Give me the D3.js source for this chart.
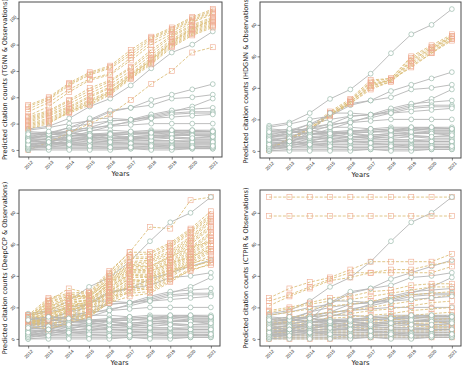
<!DOCTYPE html>
<html>
<head>
<meta charset="utf-8">
<script src="https://cdn.jsdelivr.net/npm/d3@7"></script>
<style>
  body { margin: 0; background: #fff; }
  svg { display: block; font-family: "DejaVu Sans", sans-serif; }
</style>
</head>
<body>
<svg id="chart" width="463" height="368"></svg>
<script>
const years = [2012, 2013, 2014, 2015, 2016, 2017, 2018, 2019, 2020, 2021];

// observed citation counts (same papers in every panel)
const observations = [
  [16, 18, 24, 33, 39, 49, 62, 74, 80, 90],
  [15, 17, 20, 22, 29, 32, 34, 39, 40, 42],
  [9, 12, 17, 23, 30, 32, 38, 42, 46, 50],
  [3, 6, 10, 14, 18, 22, 26, 29, 33, 39],
  [8, 11, 14, 17, 22, 23, 27, 30, 31, 32],
  [10, 13, 17, 20, 22, 23, 25, 28, 29, 29],
  [6, 9, 12, 16, 19, 21, 24, 27, 28, 28],
  [9, 11, 15, 17, 18, 19, 20, 20, 20, 20],
  [2, 5, 12, 24, 24, 23, 24, 25, 26, 27],
  [14, 13, 14, 15, 15, 14, 15, 15, 14, 14],
  [12, 12, 13, 12, 13, 13, 14, 14, 13, 13],
  [11, 12, 11, 12, 12, 12, 12, 13, 12, 12],
  [10, 10, 11, 11, 11, 10, 11, 11, 11, 10],
  [9, 9, 9, 10, 9, 9, 10, 10, 9, 9],
  [7, 8, 8, 9, 8, 9, 8, 9, 8, 8],
  [6, 7, 7, 8, 7, 7, 7, 7, 7, 7],
  [5, 5, 6, 6, 6, 6, 6, 6, 6, 6],
  [4, 5, 5, 5, 5, 5, 5, 5, 5, 5],
  [3, 4, 4, 4, 4, 4, 4, 4, 4, 4],
  [2, 3, 3, 3, 3, 3, 3, 3, 3, 3],
  [1, 2, 2, 2, 2, 2, 2, 2, 2, 2],
  [0, 1, 1, 1, 1, 1, 1, 1, 1, 1],
  [0, 0, 0, 0, 0, 1, 0, 0, 1, 1],
  [1, 3, 6, 9, 11, 12, 13, 14, 15, 15],
  [2, 4, 8, 10, 12, 12, 13, 13, 14, 14],
  [3, 2, 4, 5, 7, 8, 9, 11, 12, 12],
  [5, 6, 5, 7, 9, 10, 11, 12, 11, 11],
  [13, 12, 11, 10, 9, 8, 7, 7, 6, 6],
  [8, 8, 10, 12, 11, 9, 10, 9, 9, 10],
  [12, 14, 13, 11, 12, 14, 13, 15, 15, 14],
  [4, 6, 9, 7, 6, 5, 4, 3, 3, 2],
  [7, 6, 4, 3, 2, 2, 3, 2, 2, 3]
];

const tgnnPred = [
  [34, 40, 51, 59, 64, 76, 86, 93, 101, 107],
  [33, 39, 50, 58, 63, 74, 85, 92, 100, 106],
  [31, 38, 49, 57, 62, 72, 84, 91, 99, 105],
  [29, 36, 46, 54, 58, 70, 82, 90, 98, 104],
  [26, 33, 44, 53, 57, 68, 80, 88, 97, 103],
  [25, 30, 38, 47, 53, 63, 76, 87, 95, 101],
  [24, 29, 37, 45, 52, 62, 74, 86, 94, 100],
  [23, 28, 35, 43, 50, 60, 72, 84, 93, 99],
  [22, 27, 33, 41, 48, 58, 70, 83, 92, 98],
  [21, 26, 32, 40, 47, 57, 69, 82, 91, 97],
  [20, 24, 31, 38, 45, 56, 68, 81, 90, 96],
  [19, 23, 30, 37, 44, 55, 67, 80, 89, 95],
  [18, 22, 29, 35, 43, 55, 66, 79, 88, 94],
  [17, 21, 28, 34, 42, 54, 65, 78, 87, 93],
  [16, 20, 29, 36, 44, 57, 68, 82, 92, 99],
  [0, 6, 13, 20, 27, 38, 50, 60, 74, 78]
];

const hdgnnPred = [
  [1, 8, 15, 25, 33, 45, 46, 60, 67, 74],
  [1, 8, 14, 24, 32, 44, 46, 59, 66, 73],
  [1, 7, 14, 24, 32, 43, 45, 58, 65, 73],
  [1, 8, 14, 23, 31, 42, 45, 57, 65, 72],
  [1, 8, 14, 23, 31, 41, 45, 56, 64, 72],
  [1, 7, 13, 23, 30, 40, 44, 55, 63, 71],
  [1, 7, 13, 22, 30, 39, 44, 54, 62, 70],
  [2, 8, 14, 23, 31, 41, 45, 53, 62, 71]
];

const deepccpPred = [
  [12, 24, 32, 29, 42, 55, 71, 70, 88, 90],
  [15, 26, 29, 30, 43, 55, 55, 61, 70, 81],
  [14, 25, 28, 29, 41, 53, 54, 60, 69, 79],
  [14, 24, 27, 28, 40, 52, 52, 59, 68, 78],
  [13, 23, 27, 27, 39, 51, 51, 58, 67, 77],
  [13, 22, 26, 28, 38, 49, 50, 56, 65, 76],
  [12, 21, 25, 26, 37, 48, 49, 55, 64, 75],
  [12, 20, 24, 27, 36, 47, 48, 54, 63, 74],
  [11, 19, 23, 25, 35, 46, 46, 53, 62, 72],
  [11, 18, 24, 24, 36, 45, 45, 52, 61, 71],
  [10, 17, 22, 25, 34, 44, 44, 51, 60, 70],
  [10, 16, 21, 23, 33, 43, 43, 50, 58, 68],
  [9, 15, 20, 22, 32, 42, 42, 49, 57, 67],
  [13, 16, 19, 21, 31, 41, 41, 48, 56, 66],
  [12, 14, 18, 20, 30, 40, 40, 47, 55, 64],
  [11, 13, 17, 19, 29, 39, 39, 46, 54, 63],
  [10, 12, 16, 18, 28, 37, 38, 45, 53, 62],
  [9, 11, 15, 17, 27, 36, 37, 44, 52, 60],
  [8, 10, 14, 16, 26, 35, 36, 43, 51, 59],
  [14, 9, 13, 16, 25, 34, 35, 42, 50, 57],
  [13, 8, 12, 15, 24, 33, 34, 41, 49, 56],
  [12, 7, 11, 15, 24, 31, 33, 40, 48, 55],
  [11, 6, 10, 14, 23, 30, 32, 39, 47, 53],
  [10, 12, 18, 22, 30, 38, 36, 42, 48, 51],
  [9, 14, 20, 24, 33, 41, 39, 44, 46, 49],
  [8, 6, 10, 14, 23, 27, 29, 36, 44, 47],
  [15, 20, 26, 27, 37, 47, 46, 52, 58, 62],
  [14, 18, 22, 23, 35, 44, 43, 48, 52, 57],
  [12, 15, 21, 22, 29, 33, 31, 38, 43, 48],
  [11, 13, 19, 20, 27, 29, 30, 37, 45, 50]
];

const ctpirPred = [
  [90, 90, 90, 90, 90, 90, 90, 90, 90, 90],
  [78, 78, 78, 78, 78, 78, 78, 78, 78, 78],
  [26, 32, 36, 39, 44, 49, 49, 49, 49, 54],
  [24, 28, 33, 38, 42, 42, 44, 44, 47, 49],
  [21, 27, 32, 37, 39, 42, 42, 42, 42, 46],
  [18, 20, 23, 26, 27, 30, 31, 34, 35, 35],
  [17, 19, 22, 24, 25, 27, 29, 31, 33, 33],
  [15, 17, 19, 21, 22, 24, 26, 28, 29, 30],
  [12, 14, 15, 17, 18, 20, 22, 24, 26, 28],
  [11, 13, 14, 15, 16, 18, 19, 21, 23, 24],
  [10, 11, 12, 13, 14, 15, 16, 18, 19, 20],
  [9, 10, 10, 11, 12, 13, 14, 15, 16, 17],
  [8, 8, 9, 9, 10, 11, 12, 13, 14, 15],
  [7, 7, 8, 8, 9, 10, 10, 11, 12, 13],
  [6, 6, 7, 7, 8, 8, 9, 10, 10, 11],
  [5, 5, 6, 6, 6, 7, 7, 8, 8, 9],
  [4, 4, 5, 5, 5, 6, 6, 6, 7, 7],
  [3, 3, 3, 4, 4, 4, 5, 5, 5, 6],
  [2, 2, 2, 3, 3, 3, 3, 4, 4, 4],
  [1, 1, 1, 1, 2, 2, 2, 2, 2, 3],
  [0, 0, 0, 0, 1, 1, 1, 1, 1, 1]
];

const panels = [
  { label: 'Predicted citation counts (TGNN & Observations)', preds: tgnnPred, ticks: [0, 20, 40, 60, 80, 100],
    box: { x0: 19, x1: 222, y0: 2, y1: 157 } },
  { label: 'Predicted citation counts (HDGNN & Observations)', preds: hdgnnPred, ticks: [0, 20, 40, 60, 80],
    box: { x0: 260, x1: 461, y0: 2, y1: 158 } },
  { label: 'Predicted citation counts (DeepCCP & Observations)', preds: deepccpPred, ticks: [0, 20, 40, 60, 80],
    box: { x0: 19, x1: 220, y0: 190, y1: 346 } },
  { label: 'Predicted citation counts (CTPIR & Observations)', preds: ctpirPred, ticks: [0, 20, 40, 60, 80],
    box: { x0: 260, x1: 461, y0: 190, y1: 346 } }
];

const OBS_LINE = '#b5b5b5';
const OBS_MARK = '#8bb09f';
const PRED_LINE = '#dcbf7c';
const PRED_MARK = '#efaa90';

const svg = d3.select('#chart');

panels.forEach(p => {
  const b = p.box;
  const allVals = p.preds.flat().concat(observations.flat());
  const lo = d3.min(allVals), hi = d3.max(allVals);
  const pad = (hi - lo) * 0.05;

  const x = d3.scaleLinear().domain([2012 - 0.45, 2021 + 0.45]).range([b.x0, b.x1]);
  const y = d3.scaleLinear().domain([lo - pad, hi + pad]).range([b.y1, b.y0]);

  const g = svg.append('g');
  const line = d3.line().x((d, i) => x(years[i])).y(d => y(d));

  // clip to axes box
  const clipId = 'clip' + b.x0 + '_' + b.y0;
  svg.append('clipPath').attr('id', clipId)
    .append('rect').attr('x', b.x0).attr('y', b.y0)
    .attr('width', b.x1 - b.x0).attr('height', b.y1 - b.y0);
  const plot = g.append('g').attr('clip-path', `url(#${clipId})`);

  const n = Math.max(p.preds.length, observations.length);
  for (let i = 0; i < n; i++) {
    const pr = p.preds[i];
    if (pr) {
      plot.append('path').attr('d', line(pr))
        .attr('fill', 'none').attr('stroke', PRED_LINE)
        .attr('stroke-width', 0.9).attr('stroke-dasharray', '3,1.6');
      plot.selectAll(null).data(pr).enter().append('rect')
        .attr('x', (d, j) => x(years[j]) - 2.5)
        .attr('y', d => y(d) - 2.5)
        .attr('width', 5).attr('height', 5)
        .attr('fill', 'none').attr('stroke', PRED_MARK).attr('stroke-width', 0.6);
    }
    const ob = observations[i];
    if (ob) {
      plot.append('path').attr('d', line(ob))
        .attr('fill', 'none').attr('stroke', OBS_LINE).attr('stroke-width', 0.9);
      plot.selectAll(null).data(ob).enter().append('circle')
        .attr('cx', (d, j) => x(years[j]))
        .attr('cy', d => y(d))
        .attr('r', 2.4)
        .attr('fill', '#fff').attr('stroke', OBS_MARK).attr('stroke-width', 0.6);
    }
  }

  // frame
  g.append('rect').attr('x', b.x0).attr('y', b.y0)
    .attr('width', b.x1 - b.x0).attr('height', b.y1 - b.y0)
    .attr('fill', 'none').attr('stroke', '#4d4d4d').attr('stroke-width', 1);

  // x axis (tick labels rotated 45°)
  const xa = g.append('g').attr('transform', `translate(0,${b.y1})`)
    .call(d3.axisBottom(x).tickValues(years).tickFormat(d3.format('d')).tickSize(2.5));
  xa.select('.domain').remove();
  xa.selectAll('line').attr('stroke', '#333').attr('stroke-width', 0.6);
  xa.selectAll('text')
    .style('font-size', '4.5px').attr('fill', '#222')
    .attr('text-anchor', 'middle')
    .attr('x', 0).attr('y', 0).attr('dy', '0.35em')
    .attr('transform', 'translate(0,8) rotate(-45)');

  // y axis (tick labels rotated 45°)
  const ya = g.append('g').attr('transform', `translate(${b.x0},0)`)
    .call(d3.axisLeft(y).tickValues(p.ticks).tickSize(2.5));
  ya.select('.domain').remove();
  ya.selectAll('line').attr('stroke', '#333').attr('stroke-width', 0.6);
  ya.selectAll('text')
    .style('font-size', '4.5px').attr('fill', '#222')
    .attr('text-anchor', 'middle')
    .attr('x', 0).attr('y', 0).attr('dy', '0.35em')
    .attr('transform', 'translate(-6,0) rotate(-45)');

  // axis titles
  g.append('text')
    .attr('transform', `translate(${b.x0 - 12.5},${(b.y0 + b.y1) / 2}) rotate(-90)`)
    .attr('text-anchor', 'middle')
    .style('font-size', '6.6px').attr('fill', '#222')
    .text(p.label);

  g.append('text')
    .attr('x', (b.x0 + b.x1) / 2).attr('y', b.y1 + 19)
    .attr('text-anchor', 'middle')
    .style('font-size', '6.8px').attr('fill', '#222')
    .text('Years');
});
</script>
</body>
</html>
